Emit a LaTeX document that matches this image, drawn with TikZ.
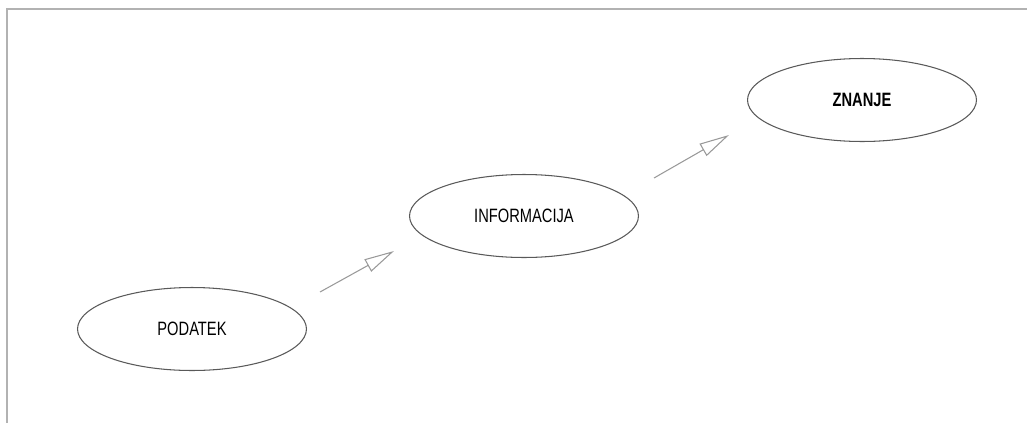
\documentclass[tikz,border=0pt]{standalone}
\usepackage{fontspec}
\setmainfont{Liberation Sans}[FakeStretch=0.76]
\usepackage{tikz}
\usetikzlibrary{shapes.geometric,arrows.meta}
\definecolor{framegray}{gray}{0.7}
\definecolor{arrowgray}{gray}{0.6}
\definecolor{linegray}{gray}{0.35}

\begin{document}
\begin{tikzpicture}
  [x=0.02cm, y=-0.02cm,
   stage/.style={ellipse, draw=linegray, line width=0.6pt, inner sep=0pt,
     minimum width=4.58cm, minimum height=1.66cm,
     font=\fontsize{11}{13}\selectfont},
   top/.style={font=\fontsize{11}{13}\selectfont\bfseries},
   frame/.style={draw=framegray, line width=1.1pt},
   towards/.style={draw=arrowgray, line width=0.6pt,
     -{Triangle[open, length=0.6cm, width=0.28cm]}},
  ]
  \useasboundingbox (0,0) rectangle (1027,423);

  \draw[frame] (6,9) -- (1027,9);
  \draw[frame] (7,9) -- (7,423);

  \node[stage] (pod) at (192,329)  {PODATEK};
  \node[stage] (inf) at (524,216)  {INFORMACIJA};
  \node[stage, top] (zna) at (862,100)  {ZNANJE};

  \coordinate (t1) at (320,292);
  \coordinate (h1) at (394,251);
  \coordinate (t2) at (654,178);
  \coordinate (h2) at (729,135);

  \path (t1) edge[towards] (h1)
        (t2) edge[towards] (h2);

\end{tikzpicture}
\end{document}
